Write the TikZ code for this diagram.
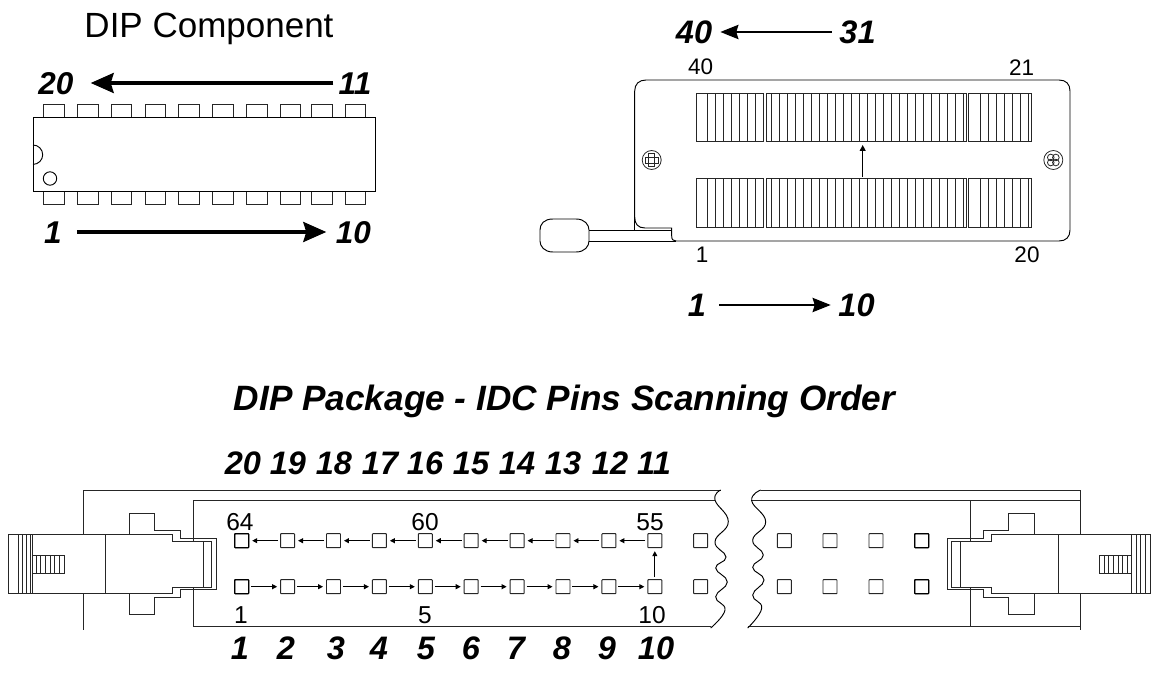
\documentclass[tikz,border=0pt]{standalone}
\usepackage{fontspec}
\setmainfont{Liberation Sans}
\usetikzlibrary{arrows.meta}
\tikzset{
  ln/.style={line width=0.95pt,color=black!85},
  big/.style={font=\fontsize{32.5}{34}\selectfont\bfseries\itshape,inner sep=0pt,text height=23.4pt,text depth=0pt},
  bigs/.style={font=\fontsize{31.5}{34}\selectfont\bfseries\itshape,inner sep=0pt,text height=22.7pt,text depth=0pt},
  lab/.style={font=\fontsize{22.5}{24}\selectfont,inner sep=0pt,text height=16.2pt,text depth=0pt},
  lablg/.style={font=\fontsize{24.5}{26}\selectfont,inner sep=0pt,text height=17.6pt,text depth=0pt},
  bigarrow/.style={line width=3.2pt,-{Stealth[length=23pt,width=20pt,inset=3pt]},line cap=butt},
  midarrow/.style={line width=2.8pt,-{Stealth[length=18pt,width=14pt,inset=2pt]}},
  tinyarrow/.style={line width=0.95pt,-{Triangle[length=5pt,width=5pt]},shorten >=3pt,shorten <=2pt},
  pinbox/.style={draw,ln,minimum size=14pt,inner sep=0pt,rounded corners=.6pt},
  endpin/.style={pinbox,color=black,line width=1.1pt}
}
\newcommand{\latch}{%
  \draw[ln,fill=white] (8.3,534.3) -- (172.3,534.3) -- (172.3,541) -- (211.7,541) -- (211.7,587.7) -- (172.3,587.7) -- (172.3,593.7) -- (8.3,593.7) -- cycle;
  \draw[ln] (203.3,541) -- (203.3,587.7);
  \draw[ln] (129.3,534.3) -- (129.3,513.3) -- (154.7,513.3) -- (154.7,530) -- (180,530) -- (180,538.3) -- (216,538.3) -- (216,589.3) -- (180,589.3) -- (180,597.7) -- (154.7,597.7) -- (154.7,614.7) -- (129.3,614.7) -- (129.3,593.7);
  \draw[ln] (105,534.3) -- (105,593.7);
  \foreach \g in {18.3,22.7,26.7,30.7,32.2} \draw[ln] (\g,534.3) -- (\g,593.7);
  \draw[ln] (32,555) rectangle (64,573.7);
  \foreach \g in {36,40.7,45.3,50,54.7,59.3} \draw[ln] (\g,555) -- (\g,573.7);
}
\begin{document}
\begin{tikzpicture}[x=1pt,y=-1pt]
\useasboundingbox (0,0) rectangle (1151,690);

% ---------- DIP component
\node[font=\fontsize{35}{36}\selectfont,inner sep=0pt,text height=25.2pt,text depth=0pt] (diptitle) at (209,24.5) {DIP Component};
\node[bigs] (d20) at (56,83) {20};
\node[bigs] (d11) at (355,83) {11};
\node[bigs] (d1) at (53,232) {1};
\node[bigs] (d10) at (353.5,232) {10};
\draw[bigarrow,shorten <=5pt,shorten >=17pt] (d11.west) -- (d20.east);
\draw[bigarrow,shorten <=15pt,shorten >=9.5pt] (d1.east) -- (d10.west);
\foreach \p/\q in {43.5/64,77/98,111/131,145/165,178/199,212/233,246/267,280/300,311/332,345/365}{
  \draw[ln] (\p,117) -- (\p,104) -- (\q,104) -- (\q,117);
  \draw[ln] (\p,191) -- (\p,204) -- (\q,204) -- (\q,191);
}
\draw[ln,color=black] (33,117) rectangle (375,191);
\draw[ln,color=black] (33,145) arc[start angle=-90,end angle=90,radius=9.7];
\draw[ln,color=black] (50,178.5) circle (6.7);

% ---------- ZIF socket
\node[big] (z40) at (694,32) {40};
\node[big] (z31) at (857.5,32) {31};
\node[big] (z1) at (697,305) {1};
\node[big] (z10) at (856.5,305) {10};
\draw[midarrow,shorten <=7.5pt,shorten >=8pt] (z31.west) -- (z40.east);
\draw[midarrow,shorten <=13pt,shorten >=7.5pt] (z1.east) -- (z10.west);
\node[lab] (l40) at (700.7,66) {40};
\node[lab] (l21) at (1021.7,67) {21};
\node[lab] (l1) at (702,254) {1};
\node[lab] (l20) at (1027,254) {20};
\draw[ln,color=black] (634.7,217) .. controls (634.7,224) and (638,228) .. (645,228) -- (671.7,228) -- (671.7,236) .. controls (671.7,239.5) and (673,241) .. (676,241) -- (1059,241) .. controls (1066,241) and (1070,237) .. (1070,230) -- (1070,91) .. controls (1070,84) and (1066,80) .. (1059,80) -- (646,80) .. controls (639,80) and (634.7,84) .. (634.7,91) -- cycle;
\draw[ln,color=black] (634.7,217) -- (634.7,230);
\draw[ln,color=black] (589,230) -- (671.7,230);
\draw[ln,color=black] (589,241) -- (676,241);
\draw[ln,color=black] (553,219) -- (576,219) .. controls (585,219) and (589,225) .. (589,230) -- (589,241) .. controls (589,246) and (585,252) .. (576,252) -- (553,252) .. controls (544,252) and (540,246) .. (540,241) -- (540,230) .. controls (540,224) and (544,219) .. (553,219) -- cycle;
\foreach \yy/\zz in {93.3/141.7,178/227}{
  \draw[ln] (696.7,\yy) rectangle (763.7,\zz);
  \foreach \g in {707.3,715.3,723.3,731.3,739.3,747.3,755.3} \draw[ln] (\g,\yy) -- (\g,\zz);
  \draw[ln] (766.3,\yy) rectangle (966,\zz);
  \foreach \k in {0,...,24} \draw[ln] ({771.7+8*\k},\yy) -- ({771.7+8*\k},\zz);
  \draw[ln] (968.3,\yy) rectangle (1031.7,\zz);
  \foreach \k in {0,...,6} \draw[ln] ({980+8*\k},\yy) -- ({980+8*\k},\zz);
}
\coordinate (ups) at (862.7,176.7);
\coordinate (upe) at (862.7,145);
\draw[line width=1.1pt,-{Triangle[length=6pt,width=6pt]}] (ups) -- (upe);
\draw[ln,line width=0.8pt] (651.7,160) circle (9.5);
\draw[ln,line width=0.8pt] (645.2,157) rectangle (658.2,163);
\draw[ln,line width=0.8pt] (648.7,153.5) rectangle (654.7,166.5);
\draw[ln,line width=0.8pt] (1053.3,160) circle (9.5);
\foreach \a in {45,135,225,315}
  \draw[ln,line width=0.8pt] (1053.3,160) ++(\a:3.6) circle (3.3);

% ---------- IDC
\node[font=\fontsize{35.2}{36}\selectfont\bfseries\itshape,inner sep=0pt,text height=25.3pt,text depth=0pt] (idctitle) at (564.5,398) {DIP Package - IDC Pins Scanning Order};
\foreach \t/\x in {20/243,19/288,18/334,17/380,16/425,15/471,14/517,13/563,12/610,11/654}
  \node[big] (n\t) at (\x,463) {\t};
\foreach \t/\x in {1/240,2/286,3/336,4/379,5/426,6/471,7/516,8/562,9/607,10/656}
  \node[big] (n\t) at (\x,648) {\t};

% frame, left
\draw[ln] (83.3,534.3) -- (83.3,490) -- (720.7,490);
\draw[ln] (83.3,593.7) -- (83.3,630);
\draw[ln] (193,541) -- (193,500.7) -- (714.5,500.7);
\draw[ln] (193,587.7) -- (193,626.7) -- (710.7,626.7);
% frame, right
\draw[ln] (760.7,490) -- (1080,490) -- (1080,534.3);
\draw[ln] (1080,593.7) -- (1080,630);
\draw[ln] (751.7,500.7) -- (1080,500.7);
\draw[ln] (747.7,626.7) -- (1080,626.7);
\draw[ln] (970,500.7) -- (970,541);
\draw[ln] (970,587.7) -- (970,626.7);
% breaks
\draw[ln,color=black] plot[smooth,tension=0.8] coordinates {(720.7,490) (715,500) (728.3,521.7) (715,541.7) (726,557) (715.7,568) (727.3,582) (715.7,596.7) (725,610) (710.7,628)};
\draw[ln,color=black] plot[smooth,tension=0.8] coordinates {(760.7,490) (751.7,500.7) (765.7,521.7) (752.7,540) (763.3,555) (752.7,567.3) (764,580) (752.7,595) (761.7,608.3) (747.7,628)};
% latches
\latch
\begin{scope}[xshift=1163.3pt,xscale=-1]
  \draw[ln,fill=white] (13.3,534.3) -- (172.3,534.3) -- (172.3,541) -- (211.7,541) -- (211.7,587.7) -- (172.3,587.7) -- (172.3,593.7) -- (13.3,593.7);
  \draw[ln] (13.3,534.3) -- (13.3,593.7);
  \draw[ln] (203.3,541) -- (203.3,587.7);
  \draw[ln] (129.3,534.3) -- (129.3,513.3) -- (154.7,513.3) -- (154.7,530) -- (180,530) -- (180,538.3) -- (216,538.3) -- (216,589.3) -- (180,589.3) -- (180,597.7) -- (154.7,597.7) -- (154.7,614.7) -- (129.3,614.7) -- (129.3,593.7);
  \draw[ln] (105,534.3) -- (105,593.7);
  \foreach \g in {18.3,22.7,26.7,31.7} \draw[ln] (\g,534.3) -- (\g,593.7);
  \draw[ln] (31.7,555) rectangle (64,573.7);
  \foreach \g in {36,40.7,45.3,50,54.7,59.3} \draw[ln] (\g,555) -- (\g,573.7);
\end{scope}
% pins
\foreach \k in {1,...,11}{
  \node[pinbox] (t\k) at ({241.7+45.9*(\k-1)},540.7) {};
  \node[pinbox] (b\k) at ({241.7+45.9*(\k-1)},586.7) {};
}
\node[endpin] at (t1) {};
\node[endpin] at (b1) {};
\foreach \k/\x in {12/784.3,13/830,14/876,15/921.7}{
  \node[pinbox] (t\k) at (\x,540.7) {};
  \node[pinbox] (b\k) at (\x,586.7) {};
}
\node[endpin] at (t15) {};
\node[endpin] at (b15) {};
\foreach \k [evaluate=\k as \m using int(\k+1)] in {1,...,9}{
  \draw[tinyarrow] (b\k) -- (b\m);
  \draw[tinyarrow] (t\m) -- (t\k);
}
\draw[tinyarrow] (b10) -- (t10);
\node[lablg] (p64) at (240,522) {64};
\node[lablg] (p60) at (425,522) {60};
\node[lablg] (p55) at (650,522) {55};
\node[lablg] (p1) at (241,615) {1};
\node[lablg] (p5) at (425,615) {5};
\node[lablg] (p10) at (652,615) {10};
\end{tikzpicture}
\end{document}
